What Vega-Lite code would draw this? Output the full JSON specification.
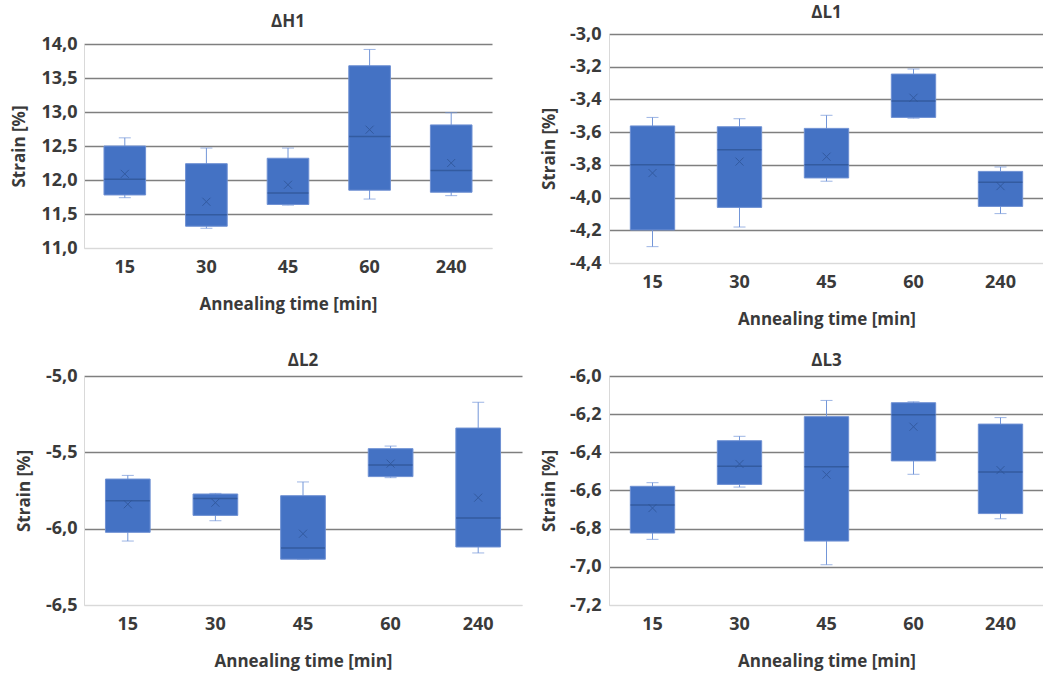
{
  "$schema": "https://vega.github.io/schema/vega-lite/v6.json",
  "padding": {"left": 10, "top": 4, "right": 0, "bottom": 6},
  "background": "white",
  "datasets": {
    "h1": [
      {"time": "15", "min": 11.74, "q1": 11.78, "median": 12.01, "mean": 12.09, "q3": 12.50, "max": 12.62},
      {"time": "30", "min": 11.29, "q1": 11.32, "median": 11.49, "mean": 11.68, "q3": 12.24, "max": 12.47},
      {"time": "45", "min": 11.63, "q1": 11.64, "median": 11.81, "mean": 11.93, "q3": 12.32, "max": 12.47},
      {"time": "60", "min": 11.72, "q1": 11.85, "median": 12.64, "mean": 12.74, "q3": 13.68, "max": 13.92},
      {"time": "240", "min": 11.77, "q1": 11.82, "median": 12.14, "mean": 12.25, "q3": 12.81, "max": 12.99}
    ],
    "l1": [
      {"time": "15", "min": -4.30, "q1": -4.198, "median": -3.80, "mean": -3.85, "q3": -3.562, "max": -3.51},
      {"time": "30", "min": -4.18, "q1": -4.06, "median": -3.707, "mean": -3.78, "q3": -3.567, "max": -3.518},
      {"time": "45", "min": -3.90, "q1": -3.88, "median": -3.80, "mean": -3.75, "q3": -3.577, "max": -3.497},
      {"time": "60", "min": -3.515, "q1": -3.51, "median": -3.41, "mean": -3.39, "q3": -3.245, "max": -3.214},
      {"time": "240", "min": -4.098, "q1": -4.054, "median": -3.907, "mean": -3.93, "q3": -3.84, "max": -3.813}
    ],
    "l2": [
      {"time": "15", "min": -6.081, "q1": -6.024, "median": -5.817, "mean": -5.84, "q3": -5.675, "max": -5.651},
      {"time": "30", "min": -5.948, "q1": -5.913, "median": -5.803, "mean": -5.83, "q3": -5.773, "max": -5.769},
      {"time": "45", "min": -6.20, "q1": -6.20, "median": -6.127, "mean": -6.033, "q3": -5.784, "max": -5.694},
      {"time": "60", "min": -5.666, "q1": -5.659, "median": -5.583, "mean": -5.574, "q3": -5.476, "max": -5.459},
      {"time": "240", "min": -6.159, "q1": -6.12, "median": -5.93, "mean": -5.797, "q3": -5.341, "max": -5.172}
    ],
    "l3": [
      {"time": "15", "min": -6.856, "q1": -6.823, "median": -6.676, "mean": -6.692, "q3": -6.578, "max": -6.559},
      {"time": "30", "min": -6.582, "q1": -6.568, "median": -6.473, "mean": -6.461, "q3": -6.339, "max": -6.316},
      {"time": "45", "min": -6.989, "q1": -6.865, "median": -6.475, "mean": -6.517, "q3": -6.213, "max": -6.128},
      {"time": "60", "min": -6.515, "q1": -6.445, "median": -6.203, "mean": -6.266, "q3": -6.140, "max": -6.135},
      {"time": "240", "min": -6.748, "q1": -6.721, "median": -6.503, "mean": -6.493, "q3": -6.252, "max": -6.218}
    ]
  },
  "spacing": 25,
  "vconcat": [
    {
      "spacing": 48,
      "hconcat": [
        {
          "width": 408, "height": 229,
          "title": {"text": "ΔH1", "offset": 3, "frame": "group"},
          "data": {"name": "h1"},
          "encoding": {
            "x": {"field": "time", "type": "ordinal", "sort": ["15", "30", "45", "60", "240"], "scale": {"paddingInner": 0, "paddingOuter": 0}, "axis": {"title": "Annealing time [min]", "offset": -15}}
          },
          "layer": [
            {"mark": {"type": "rule", "color": "#7396d8", "strokeWidth": 1},
             "encoding": {"y": {"field": "min", "type": "quantitative", "title": "Strain [%]", "scale": {"domain": [11, 14], "range": [214, 10], "nice": false, "zero": false},
               "axis": {"values": [11, 11.5, 12, 12.5, 13, 13.5, 14], "labelExpr": "replace(replace(format(datum.value, '.1f'), '.', ','), '−', '-')", "gridColor": {"condition": {"test": "abs(datum.value - 11) < 0.001", "value": "#e0e0e0"}, "value": "#7f7f7f"}}},
               "y2": {"field": "max"}}},
            {"mark": {"type": "tick", "color": "#7396d8", "size": 12, "thickness": 1},
             "encoding": {"y": {"field": "min", "type": "quantitative", "title": "Strain [%]", "scale": {"domain": [11, 14], "range": [214, 10], "nice": false, "zero": false},
               "axis": {"values": [11, 11.5, 12, 12.5, 13, 13.5, 14], "labelExpr": "replace(replace(format(datum.value, '.1f'), '.', ','), '−', '-')", "gridColor": {"condition": {"test": "abs(datum.value - 11) < 0.001", "value": "#e0e0e0"}, "value": "#7f7f7f"}}}}},
            {"mark": {"type": "tick", "color": "#7396d8", "size": 12, "thickness": 1},
             "encoding": {"y": {"field": "max", "type": "quantitative", "title": "Strain [%]", "scale": {"domain": [11, 14], "range": [214, 10], "nice": false, "zero": false},
               "axis": {"values": [11, 11.5, 12, 12.5, 13, 13.5, 14], "labelExpr": "replace(replace(format(datum.value, '.1f'), '.', ','), '−', '-')", "gridColor": {"condition": {"test": "abs(datum.value - 11) < 0.001", "value": "#e0e0e0"}, "value": "#7f7f7f"}}}}},
            {"mark": {"type": "bar", "width": {"band": 0.51}, "fill": "#4472C4", "stroke": "#6e90d3", "strokeWidth": 1},
             "encoding": {"y": {"field": "q1", "type": "quantitative", "title": "Strain [%]", "scale": {"domain": [11, 14], "range": [214, 10], "nice": false, "zero": false},
               "axis": {"values": [11, 11.5, 12, 12.5, 13, 13.5, 14], "labelExpr": "replace(replace(format(datum.value, '.1f'), '.', ','), '−', '-')", "gridColor": {"condition": {"test": "abs(datum.value - 11) < 0.001", "value": "#e0e0e0"}, "value": "#7f7f7f"}}},
               "y2": {"field": "q3"}}},
            {"mark": {"type": "tick", "color": "#2f5597", "size": 41, "thickness": 1.5, "opacity": 0.8},
             "encoding": {"y": {"field": "median", "type": "quantitative", "title": "Strain [%]", "scale": {"domain": [11, 14], "range": [214, 10], "nice": false, "zero": false},
               "axis": {"values": [11, 11.5, 12, 12.5, 13, 13.5, 14], "labelExpr": "replace(replace(format(datum.value, '.1f'), '.', ','), '−', '-')", "gridColor": {"condition": {"test": "abs(datum.value - 11) < 0.001", "value": "#e0e0e0"}, "value": "#7f7f7f"}}}}},
            {"mark": {"type": "point", "shape": "M-1,-1L1,1M1,-1L-1,1", "filled": false, "color": "#2f5597", "size": 64, "strokeWidth": 1, "opacity": 0.8},
             "encoding": {"y": {"field": "mean", "type": "quantitative", "title": "Strain [%]", "scale": {"domain": [11, 14], "range": [214, 10], "nice": false, "zero": false},
               "axis": {"values": [11, 11.5, 12, 12.5, 13, 13.5, 14], "labelExpr": "replace(replace(format(datum.value, '.1f'), '.', ','), '−', '-')", "gridColor": {"condition": {"test": "abs(datum.value - 11) < 0.001", "value": "#e0e0e0"}, "value": "#7f7f7f"}}}}}
          ]
        },
        {
          "width": 435, "height": 229,
          "title": {"text": "ΔL1", "offset": 3, "frame": "group"},
          "data": {"name": "l1"},
          "encoding": {
            "x": {"field": "time", "type": "ordinal", "sort": ["15", "30", "45", "60", "240"], "scale": {"paddingInner": 0, "paddingOuter": 0}, "axis": {"title": "Annealing time [min]"}}
          },
          "layer": [
            {"mark": {"type": "rule", "color": "#7396d8", "strokeWidth": 1},
             "encoding": {"y": {"field": "min", "type": "quantitative", "title": "Strain [%]", "scale": {"domain": [-4.4, -3.0], "nice": false, "zero": false},
               "axis": {"values": [-4.4, -4.2, -4.0, -3.8, -3.6, -3.4, -3.2, -3.0], "labelPadding": 8, "titlePadding": 11, "labelExpr": "replace(replace(format(datum.value, '.1f'), '.', ','), '−', '-')", "gridColor": {"condition": {"test": "abs(datum.value + 4.4) < 0.001", "value": "#e0e0e0"}, "value": "#7f7f7f"}}},
               "y2": {"field": "max"}}},
            {"mark": {"type": "tick", "color": "#7396d8", "size": 12, "thickness": 1},
             "encoding": {"y": {"field": "min", "type": "quantitative", "title": "Strain [%]", "scale": {"domain": [-4.4, -3.0], "nice": false, "zero": false},
               "axis": {"values": [-4.4, -4.2, -4.0, -3.8, -3.6, -3.4, -3.2, -3.0], "labelPadding": 8, "titlePadding": 11, "labelExpr": "replace(replace(format(datum.value, '.1f'), '.', ','), '−', '-')", "gridColor": {"condition": {"test": "abs(datum.value + 4.4) < 0.001", "value": "#e0e0e0"}, "value": "#7f7f7f"}}}}},
            {"mark": {"type": "tick", "color": "#7396d8", "size": 12, "thickness": 1},
             "encoding": {"y": {"field": "max", "type": "quantitative", "title": "Strain [%]", "scale": {"domain": [-4.4, -3.0], "nice": false, "zero": false},
               "axis": {"values": [-4.4, -4.2, -4.0, -3.8, -3.6, -3.4, -3.2, -3.0], "labelPadding": 8, "titlePadding": 11, "labelExpr": "replace(replace(format(datum.value, '.1f'), '.', ','), '−', '-')", "gridColor": {"condition": {"test": "abs(datum.value + 4.4) < 0.001", "value": "#e0e0e0"}, "value": "#7f7f7f"}}}}},
            {"mark": {"type": "bar", "width": {"band": 0.51}, "fill": "#4472C4", "stroke": "#6e90d3", "strokeWidth": 1},
             "encoding": {"y": {"field": "q1", "type": "quantitative", "title": "Strain [%]", "scale": {"domain": [-4.4, -3.0], "nice": false, "zero": false},
               "axis": {"values": [-4.4, -4.2, -4.0, -3.8, -3.6, -3.4, -3.2, -3.0], "labelPadding": 8, "titlePadding": 11, "labelExpr": "replace(replace(format(datum.value, '.1f'), '.', ','), '−', '-')", "gridColor": {"condition": {"test": "abs(datum.value + 4.4) < 0.001", "value": "#e0e0e0"}, "value": "#7f7f7f"}}},
               "y2": {"field": "q3"}}},
            {"mark": {"type": "tick", "color": "#2f5597", "size": 44, "thickness": 1.5, "opacity": 0.8},
             "encoding": {"y": {"field": "median", "type": "quantitative", "title": "Strain [%]", "scale": {"domain": [-4.4, -3.0], "nice": false, "zero": false},
               "axis": {"values": [-4.4, -4.2, -4.0, -3.8, -3.6, -3.4, -3.2, -3.0], "labelPadding": 8, "titlePadding": 11, "labelExpr": "replace(replace(format(datum.value, '.1f'), '.', ','), '−', '-')", "gridColor": {"condition": {"test": "abs(datum.value + 4.4) < 0.001", "value": "#e0e0e0"}, "value": "#7f7f7f"}}}}},
            {"mark": {"type": "point", "shape": "M-1,-1L1,1M1,-1L-1,1", "filled": false, "color": "#2f5597", "size": 64, "strokeWidth": 1, "opacity": 0.8},
             "encoding": {"y": {"field": "mean", "type": "quantitative", "title": "Strain [%]", "scale": {"domain": [-4.4, -3.0], "nice": false, "zero": false},
               "axis": {"values": [-4.4, -4.2, -4.0, -3.8, -3.6, -3.4, -3.2, -3.0], "labelPadding": 8, "titlePadding": 11, "labelExpr": "replace(replace(format(datum.value, '.1f'), '.', ','), '−', '-')", "gridColor": {"condition": {"test": "abs(datum.value + 4.4) < 0.001", "value": "#e0e0e0"}, "value": "#7f7f7f"}}}}}
          ]
        }
      ]
    },
    {
      "spacing": 18,
      "hconcat": [
        {
          "width": 438, "height": 229,
          "title": {"text": "ΔL2", "offset": -3, "frame": "group"},
          "data": {"name": "l2"},
          "encoding": {
            "x": {"field": "time", "type": "ordinal", "sort": ["15", "30", "45", "60", "240"], "scale": {"paddingInner": 0, "paddingOuter": 0}, "axis": {"title": "Annealing time [min]"}}
          },
          "layer": [
            {"mark": {"type": "rule", "color": "#7396d8", "strokeWidth": 1},
             "encoding": {"y": {"field": "min", "type": "quantitative", "title": "Strain [%]", "scale": {"domain": [-6.5, -5.0], "nice": false, "zero": false},
               "axis": {"values": [-6.5, -6.0, -5.5, -5.0], "labelExpr": "replace(replace(format(datum.value, '.1f'), '.', ','), '−', '-')", "gridColor": {"condition": {"test": "abs(datum.value + 6.5) < 0.001", "value": "#e0e0e0"}, "value": "#7f7f7f"}}},
               "y2": {"field": "max"}}},
            {"mark": {"type": "tick", "color": "#7396d8", "size": 12, "thickness": 1},
             "encoding": {"y": {"field": "min", "type": "quantitative", "title": "Strain [%]", "scale": {"domain": [-6.5, -5.0], "nice": false, "zero": false},
               "axis": {"values": [-6.5, -6.0, -5.5, -5.0], "labelExpr": "replace(replace(format(datum.value, '.1f'), '.', ','), '−', '-')", "gridColor": {"condition": {"test": "abs(datum.value + 6.5) < 0.001", "value": "#e0e0e0"}, "value": "#7f7f7f"}}}}},
            {"mark": {"type": "tick", "color": "#7396d8", "size": 12, "thickness": 1},
             "encoding": {"y": {"field": "max", "type": "quantitative", "title": "Strain [%]", "scale": {"domain": [-6.5, -5.0], "nice": false, "zero": false},
               "axis": {"values": [-6.5, -6.0, -5.5, -5.0], "labelExpr": "replace(replace(format(datum.value, '.1f'), '.', ','), '−', '-')", "gridColor": {"condition": {"test": "abs(datum.value + 6.5) < 0.001", "value": "#e0e0e0"}, "value": "#7f7f7f"}}}}},
            {"mark": {"type": "bar", "width": {"band": 0.51}, "fill": "#4472C4", "stroke": "#6e90d3", "strokeWidth": 1},
             "encoding": {"y": {"field": "q1", "type": "quantitative", "title": "Strain [%]", "scale": {"domain": [-6.5, -5.0], "nice": false, "zero": false},
               "axis": {"values": [-6.5, -6.0, -5.5, -5.0], "labelExpr": "replace(replace(format(datum.value, '.1f'), '.', ','), '−', '-')", "gridColor": {"condition": {"test": "abs(datum.value + 6.5) < 0.001", "value": "#e0e0e0"}, "value": "#7f7f7f"}}},
               "y2": {"field": "q3"}}},
            {"mark": {"type": "tick", "color": "#2f5597", "size": 44, "thickness": 1.5, "opacity": 0.8},
             "encoding": {"y": {"field": "median", "type": "quantitative", "title": "Strain [%]", "scale": {"domain": [-6.5, -5.0], "nice": false, "zero": false},
               "axis": {"values": [-6.5, -6.0, -5.5, -5.0], "labelExpr": "replace(replace(format(datum.value, '.1f'), '.', ','), '−', '-')", "gridColor": {"condition": {"test": "abs(datum.value + 6.5) < 0.001", "value": "#e0e0e0"}, "value": "#7f7f7f"}}}}},
            {"mark": {"type": "point", "shape": "M-1,-1L1,1M1,-1L-1,1", "filled": false, "color": "#2f5597", "size": 64, "strokeWidth": 1, "opacity": 0.8},
             "encoding": {"y": {"field": "mean", "type": "quantitative", "title": "Strain [%]", "scale": {"domain": [-6.5, -5.0], "nice": false, "zero": false},
               "axis": {"values": [-6.5, -6.0, -5.5, -5.0], "labelExpr": "replace(replace(format(datum.value, '.1f'), '.', ','), '−', '-')", "gridColor": {"condition": {"test": "abs(datum.value + 6.5) < 0.001", "value": "#e0e0e0"}, "value": "#7f7f7f"}}}}}
          ]
        },
        {
          "width": 435, "height": 229,
          "title": {"text": "ΔL3", "offset": -3, "frame": "group"},
          "data": {"name": "l3"},
          "encoding": {
            "x": {"field": "time", "type": "ordinal", "sort": ["15", "30", "45", "60", "240"], "scale": {"paddingInner": 0, "paddingOuter": 0}, "axis": {"title": "Annealing time [min]"}}
          },
          "layer": [
            {"mark": {"type": "rule", "color": "#7396d8", "strokeWidth": 1},
             "encoding": {"y": {"field": "min", "type": "quantitative", "title": "Strain [%]", "scale": {"domain": [-7.2, -6.0], "nice": false, "zero": false},
               "axis": {"values": [-7.2, -7.0, -6.8, -6.6, -6.4, -6.2, -6.0], "labelPadding": 8, "titlePadding": 11, "labelExpr": "replace(replace(format(datum.value, '.1f'), '.', ','), '−', '-')", "gridColor": {"condition": {"test": "abs(datum.value + 7.2) < 0.001", "value": "#e0e0e0"}, "value": "#7f7f7f"}}},
               "y2": {"field": "max"}}},
            {"mark": {"type": "tick", "color": "#7396d8", "size": 12, "thickness": 1},
             "encoding": {"y": {"field": "min", "type": "quantitative", "title": "Strain [%]", "scale": {"domain": [-7.2, -6.0], "nice": false, "zero": false},
               "axis": {"values": [-7.2, -7.0, -6.8, -6.6, -6.4, -6.2, -6.0], "labelPadding": 8, "titlePadding": 11, "labelExpr": "replace(replace(format(datum.value, '.1f'), '.', ','), '−', '-')", "gridColor": {"condition": {"test": "abs(datum.value + 7.2) < 0.001", "value": "#e0e0e0"}, "value": "#7f7f7f"}}}}},
            {"mark": {"type": "tick", "color": "#7396d8", "size": 12, "thickness": 1},
             "encoding": {"y": {"field": "max", "type": "quantitative", "title": "Strain [%]", "scale": {"domain": [-7.2, -6.0], "nice": false, "zero": false},
               "axis": {"values": [-7.2, -7.0, -6.8, -6.6, -6.4, -6.2, -6.0], "labelPadding": 8, "titlePadding": 11, "labelExpr": "replace(replace(format(datum.value, '.1f'), '.', ','), '−', '-')", "gridColor": {"condition": {"test": "abs(datum.value + 7.2) < 0.001", "value": "#e0e0e0"}, "value": "#7f7f7f"}}}}},
            {"mark": {"type": "bar", "width": {"band": 0.51}, "fill": "#4472C4", "stroke": "#6e90d3", "strokeWidth": 1},
             "encoding": {"y": {"field": "q1", "type": "quantitative", "title": "Strain [%]", "scale": {"domain": [-7.2, -6.0], "nice": false, "zero": false},
               "axis": {"values": [-7.2, -7.0, -6.8, -6.6, -6.4, -6.2, -6.0], "labelPadding": 8, "titlePadding": 11, "labelExpr": "replace(replace(format(datum.value, '.1f'), '.', ','), '−', '-')", "gridColor": {"condition": {"test": "abs(datum.value + 7.2) < 0.001", "value": "#e0e0e0"}, "value": "#7f7f7f"}}},
               "y2": {"field": "q3"}}},
            {"mark": {"type": "tick", "color": "#2f5597", "size": 44, "thickness": 1.5, "opacity": 0.8},
             "encoding": {"y": {"field": "median", "type": "quantitative", "title": "Strain [%]", "scale": {"domain": [-7.2, -6.0], "nice": false, "zero": false},
               "axis": {"values": [-7.2, -7.0, -6.8, -6.6, -6.4, -6.2, -6.0], "labelPadding": 8, "titlePadding": 11, "labelExpr": "replace(replace(format(datum.value, '.1f'), '.', ','), '−', '-')", "gridColor": {"condition": {"test": "abs(datum.value + 7.2) < 0.001", "value": "#e0e0e0"}, "value": "#7f7f7f"}}}}},
            {"mark": {"type": "point", "shape": "M-1,-1L1,1M1,-1L-1,1", "filled": false, "color": "#2f5597", "size": 64, "strokeWidth": 1, "opacity": 0.8},
             "encoding": {"y": {"field": "mean", "type": "quantitative", "title": "Strain [%]", "scale": {"domain": [-7.2, -6.0], "nice": false, "zero": false},
               "axis": {"values": [-7.2, -7.0, -6.8, -6.6, -6.4, -6.2, -6.0], "labelPadding": 8, "titlePadding": 11, "labelExpr": "replace(replace(format(datum.value, '.1f'), '.', ','), '−', '-')", "gridColor": {"condition": {"test": "abs(datum.value + 7.2) < 0.001", "value": "#e0e0e0"}, "value": "#7f7f7f"}}}}}
          ]
        }
      ]
    }
  ],
  "config": {
    "view": {"stroke": null},
    "font": "Open Sans",
    "title": {"font": "Open Sans", "fontSize": 17, "fontWeight": "bold", "color": "#3a3a3a", "anchor": "middle"},
    "axis": {
      "labelFont": "Open Sans", "labelFontWeight": "bold", "labelFontSize": 18, "labelColor": "#3a3a3a",
      "titleFont": "Open Sans", "titleFontWeight": "bold", "titleFontSize": 17, "titleColor": "#3a3a3a",
      "ticks": false, "domainColor": "#d9d9d9", "domainWidth": 1
    },
    "axisX": {"grid": false, "labelAngle": 0, "labelPadding": 10, "titlePadding": 20},
    "axisY": {"gridWidth": 1.5, "labelPadding": 7, "titlePadding": 12}
  }
}
